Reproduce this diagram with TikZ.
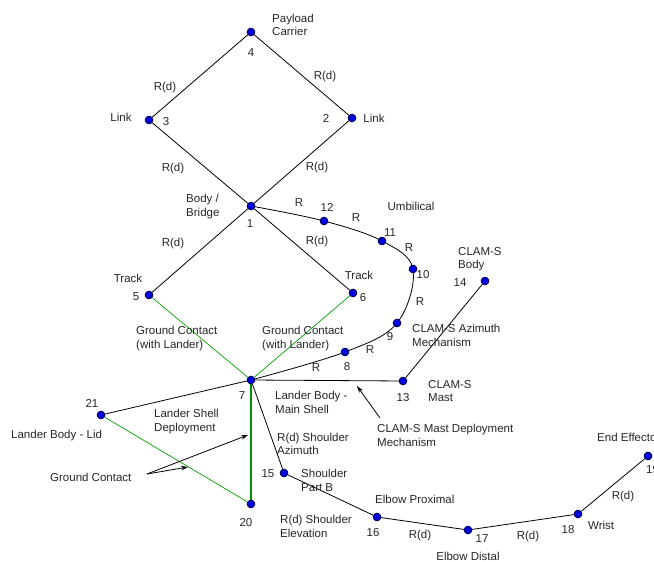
\documentclass[tikz,border=0pt]{standalone}
\usepackage{fontspec}
\setmainfont{Liberation Sans}
\usetikzlibrary{arrows.meta}
\definecolor{jointblue}{RGB}{0,0,230}
\definecolor{gcgreen}{RGB}{0,160,0}
\begin{document}
\begin{tikzpicture}[x=1pt,y=-1pt,
  joint/.style={circle,draw=black!70!blue,fill=jointblue,line width=0.5pt,minimum size=8pt,inner sep=0pt},
  lbl/.style={font=\fontsize{11.5}{13.5}\selectfont,inner sep=0pt,align=left,text=black!85},
  link/.style={draw=black,line width=0.8pt},
  gc/.style={draw=gcgreen,line width=0.7pt},
  gcthick/.style={draw=gcgreen!90!black,line width=2.2pt},
  pointer/.style={draw=black,line width=0.8pt,-{Stealth[length=7pt,width=4.5pt]}}]
\useasboundingbox (0,0) rectangle (654,562);
% joints
\node[joint] (n1) at (251,206) {};
\node[joint] (n2) at (352,118) {};
\node[joint] (n3) at (149,120) {};
\node[joint] (n4) at (251,32) {};
\node[joint] (n5) at (149,295) {};
\node[joint] (n6) at (353,293) {};
\node[joint] (n7) at (251,380) {};
\node[joint] (n8) at (345,352) {};
\node[joint] (n9) at (397,323) {};
\node[joint] (n10) at (413,269) {};
\node[joint] (n11) at (382,241) {};
\node[joint] (n12) at (324,221) {};
\node[joint] (n13) at (403,381) {};
\node[joint] (n14) at (485,281) {};
\node[joint] (n15) at (284,473) {};
\node[joint] (n16) at (377,517) {};
\node[joint] (n17) at (468,530) {};
\node[joint] (n18) at (578,514) {};
\node[joint] (n19) at (648,456) {};
\node[joint] (n20) at (251,504) {};
\node[joint] (n21) at (101,415) {};
% links
\begin{scope}[on background layer/.style={}]
\draw[link] (n4) -- (n3);
\draw[link] (n4) -- (n2);
\draw[link] (n3) -- (n1);
\draw[link] (n2) -- (n1);
\draw[link] (n1) -- (n5);
\draw[link] (n1) -- (n6);
\draw[gc] (n5) -- (n7);
\draw[gc] (n6) -- (n7);
\draw[link] plot[smooth,tension=0.6] coordinates {(n1) (n12) (n11) (n10) (n9) (n8) (n7)};
\draw[link] (n7) -- (n13);
\draw[link] (n13) -- (n14);
\draw[link] (n7) -- (n21);
\draw[gc] (n21) -- (n20);
\draw[gcthick] (n7) -- (n20);
\draw[link] (n7) -- (n15);
\draw[link] (n15) -- (n16);
\draw[link] (n16) -- (n17);
\draw[link] (n17) -- (n18);
\draw[link] (n18) -- (n19);
\end{scope}
% redraw joints on top
\foreach \n in {n1,n2,n3,n4,n5,n6,n7,n8,n9,n10,n11,n12,n13,n14,n15,n16,n17,n18,n19,n20,n21}{
  \fill[jointblue] (\n) circle (3.6pt);
  \draw[black!70!blue,line width=0.5pt] (\n) circle (3.6pt);
}
% labels
\node[lbl,anchor=west] (tPC) at (272,25) {Payload\\Carrier};
\node[lbl] (t4) at (251,53) {4};
\node[lbl] (tr1) at (165,88) {R(d)};
\node[lbl] (tr2) at (325,77) {R(d)};
\node[lbl] (tr3) at (173,169) {R(d)};
\node[lbl] (tr4) at (317,168) {R(d)};
\node[lbl] (tr5) at (173,244) {R(d)};
\node[lbl] (tr6) at (317,242) {R(d)};
\node[lbl] (tL1) at (121,117) {Link};
\node[lbl] (tL2) at (374,118) {Link};
\node[lbl] (t3) at (166,122) {3};
\node[lbl] (t2) at (326,118) {2};
\node[lbl,anchor=west] (tBB) at (186,206.5) {Body /\\Bridge};
\node[lbl] (t1) at (250,224) {1};
\node[lbl] (tR1) at (299,203) {R};
\node[lbl] (t12) at (327,207) {12};
\node[lbl] (tR2) at (356,218) {R};
\node[lbl] (tUmb) at (411,206) {Umbilical};
\node[lbl] (t11) at (390,233) {11};
\node[lbl] (tR3) at (409,248) {R};
\node[lbl] (t10) at (423,275) {10};
\node[lbl] (tR4) at (420,302) {R};
\node[lbl] (t9) at (390,337) {9};
\node[lbl] (tR5) at (370,350) {R};
\node[lbl] (t8) at (347,367) {8};
\node[lbl] (tR6) at (316,368) {R};
\node[lbl] (tT1) at (128,278) {Track};
\node[lbl] (t5) at (136,297) {5};
\node[lbl] (tT2) at (359,275) {Track};
\node[lbl] (t6) at (363,298) {6};
\node[lbl,anchor=west] (tGC1) at (136,338.5) {Ground Contact\\(with Lander)};
\node[lbl,anchor=west] (tGC2) at (262,338.5) {Ground Contact\\(with Lander)};
\node[lbl] (t7) at (242,396) {7};
\node[lbl,anchor=west] (tLBM) at (275,402.5) {Lander Body -\\Main Shell};
\node[lbl,anchor=west] (tCAz) at (412,335.5) {CLAM-S Azimuth\\Mechanism};
\node[lbl,anchor=west] (tCB) at (458,259) {CLAM-S\\Body};
\node[lbl] (t14) at (460,283) {14};
\node[lbl,anchor=west] (tCM) at (428,391) {CLAM-S\\Mast};
\node[lbl] (t13) at (403,398) {13};
\node[lbl,anchor=west] (tCMD) at (377,435.5) {CLAM-S Mast Deployment\\Mechanism};
\node[lbl,anchor=west] (tLSD) at (154,421.5) {Lander Shell\\Deployment};
\node[lbl,anchor=west] (tLid) at (11,436) {Lander Body - Lid};
\node[lbl] (t21) at (92,403) {21};
\node[lbl,anchor=west] (tGC3) at (50,477) {Ground Contact};
\node[lbl,anchor=west] (tSA) at (277,444) {R(d) Shoulder\\Azimuth};
\node[lbl] (t15) at (268,474) {15};
\node[lbl,anchor=west] (tSPB) at (301,480.5) {Shoulder\\Part B};
\node[lbl] (t20) at (246,523) {20};
\node[lbl,anchor=west] (tSE) at (280,526.5) {R(d) Shoulder\\Elevation};
\node[lbl,anchor=west] (tEP) at (375,499) {Elbow Proximal};
\node[lbl] (t16) at (373,533) {16};
\node[lbl] (tr7) at (420,536) {R(d)};
\node[lbl] (t17) at (482,539) {17};
\node[lbl] (tED) at (468,556) {Elbow Distal};
\node[lbl] (tr8) at (528,537) {R(d)};
\node[lbl] (t18) at (568,530) {18};
\node[lbl,anchor=west] (tW) at (588,525) {Wrist};
\node[lbl] (tr9) at (623,497) {R(d)};
\node[lbl,anchor=west] (tEE) at (597,437) {End Effector};
\node[lbl,anchor=west] (t19) at (646,470) {19};
% pointer arrows
\coordinate (aCMDs) at (380,418);
\coordinate (aCMDe) at (357,386);
\draw[pointer] (aCMDs) -- (aCMDe);
\coordinate (aGCs) at (147,474);
\coordinate (aGCe1) at (248,435);
\coordinate (aGCe2) at (188,467);
\draw[pointer] (aGCs) -- (aGCe1);
\draw[pointer] (aGCs) -- (aGCe2);
\end{tikzpicture}
\end{document}
